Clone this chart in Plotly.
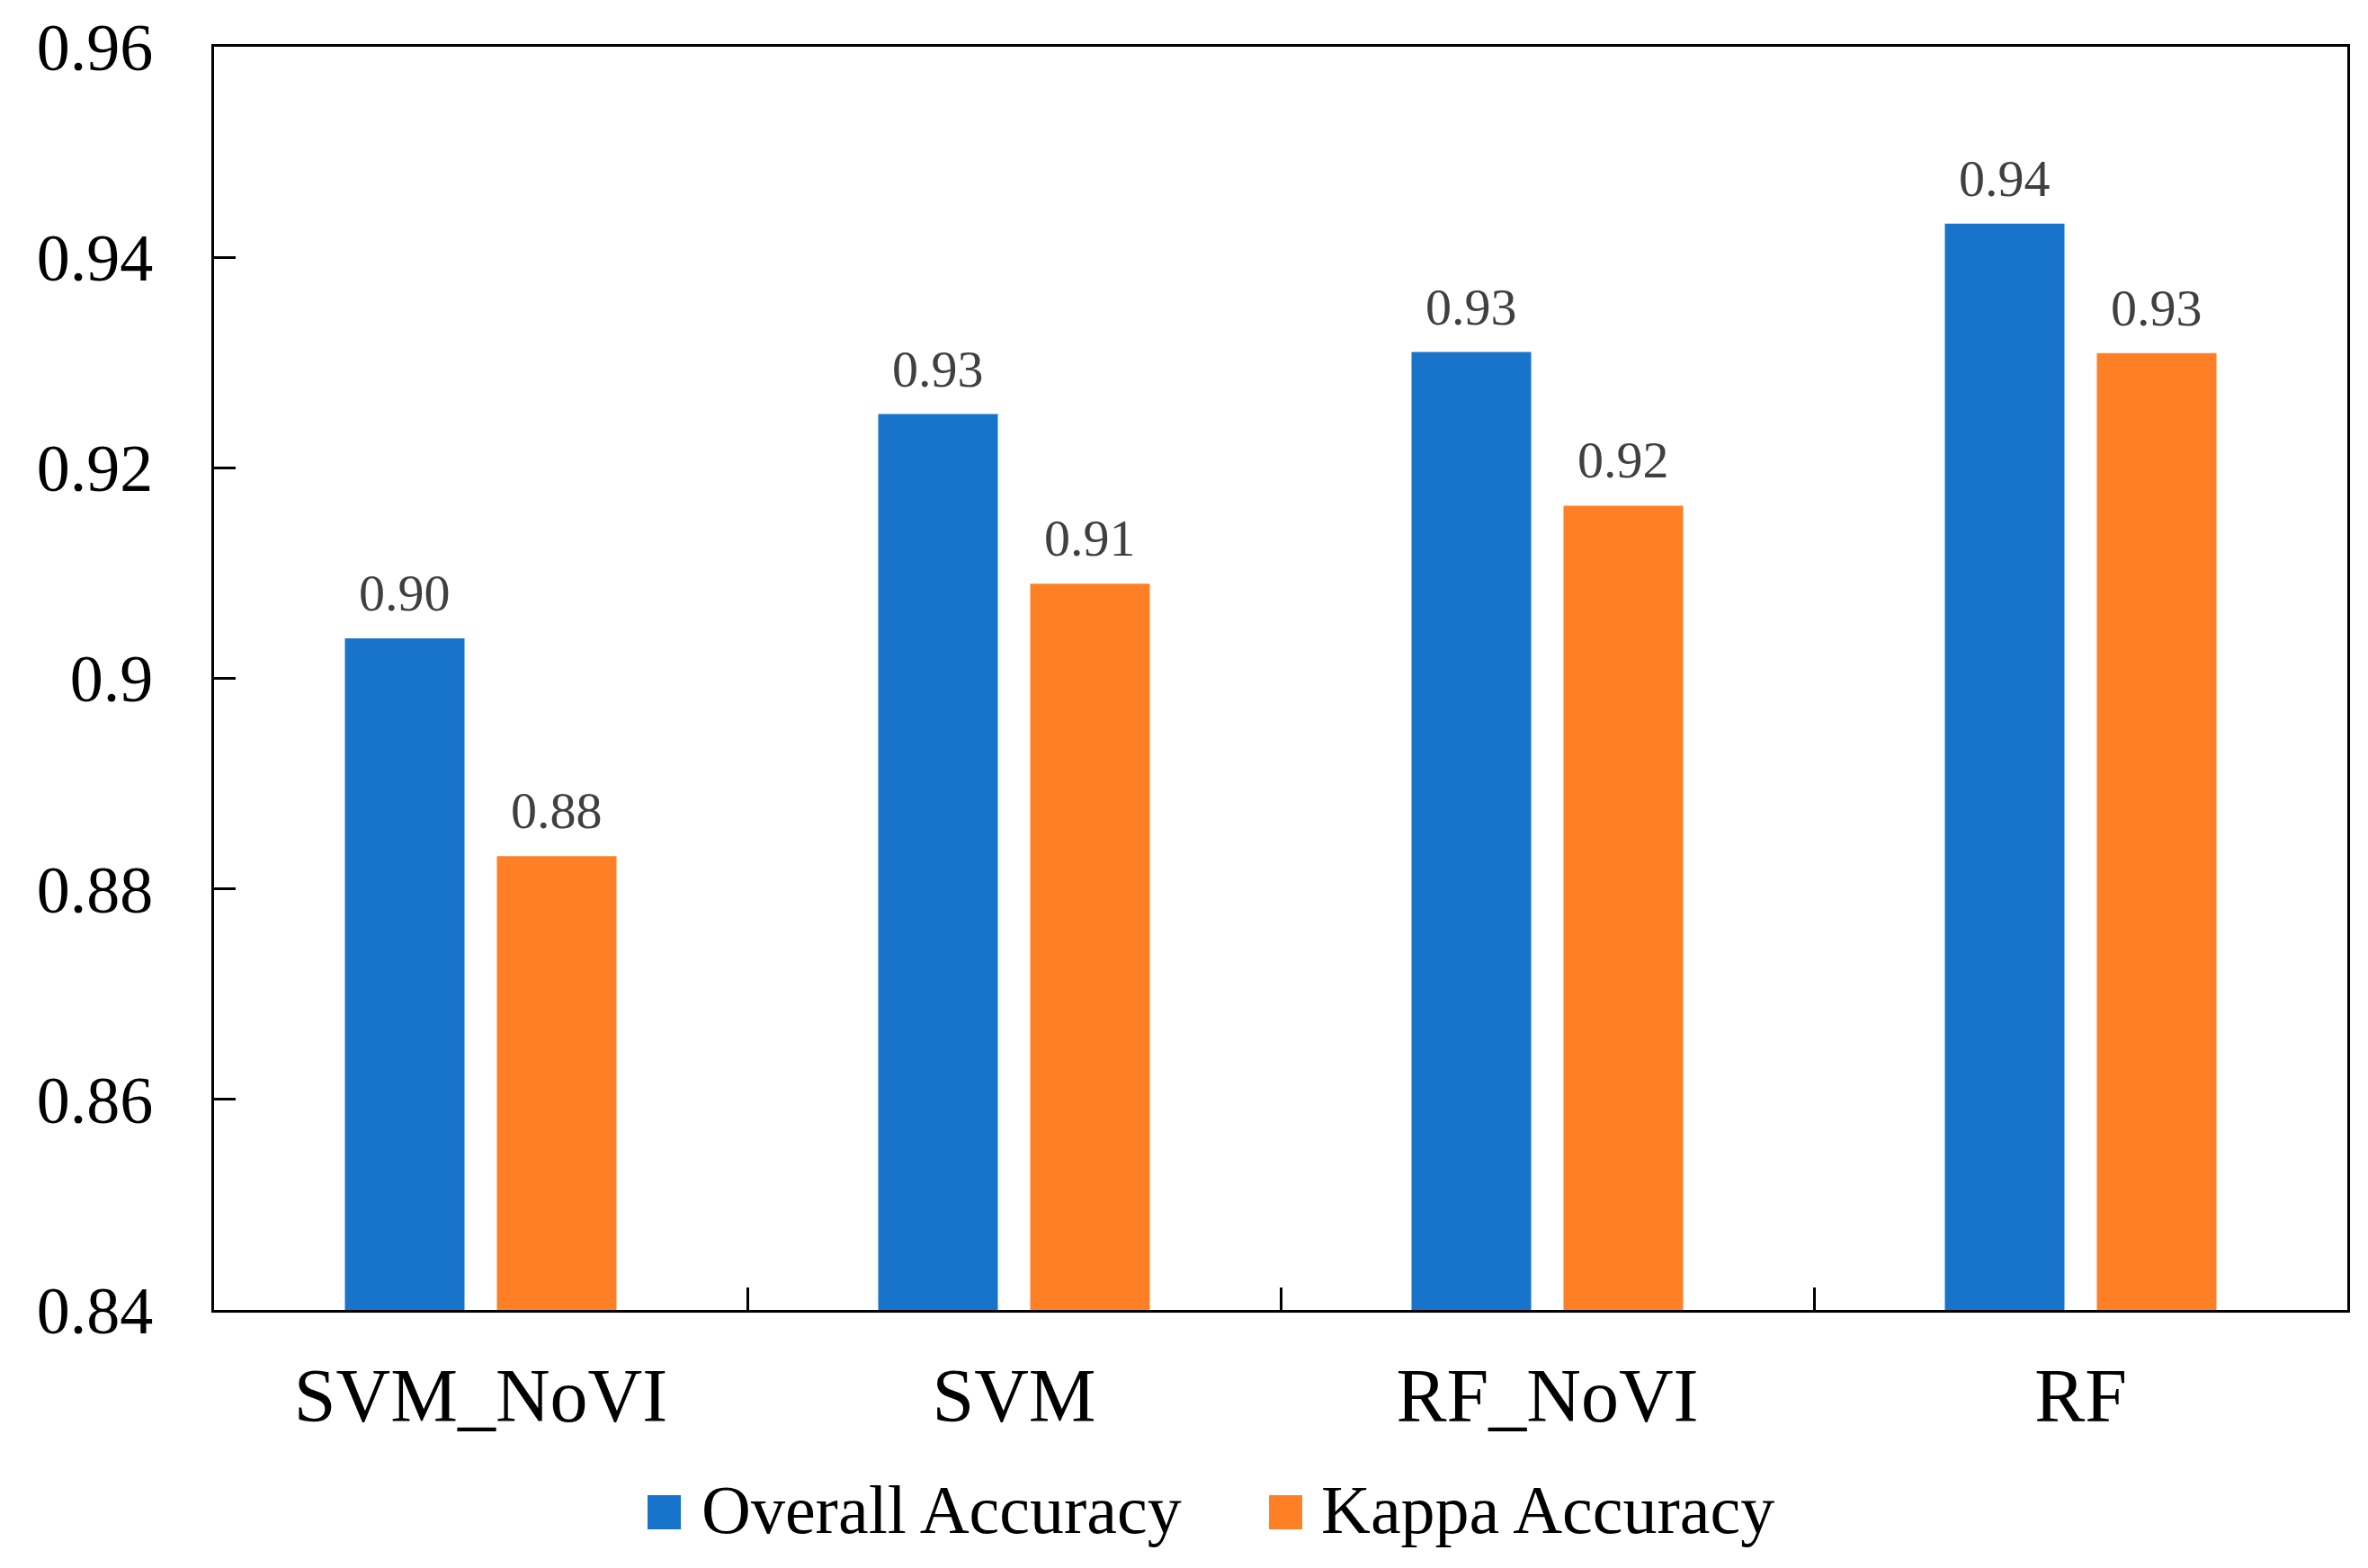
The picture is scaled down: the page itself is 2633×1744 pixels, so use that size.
import plotly.graph_objects as go

# ---- data ----
categories = ["SVM_NoVI", "SVM", "RF_NoVI", "RF"]
series_names = ["Overall Accuracy", "Kappa Accuracy"]
overall_accuracy = [0.9038, 0.9251, 0.9310, 0.9432]
kappa_accuracy = [0.8831, 0.9090, 0.9164, 0.9309]
y_ticks = [0.84, 0.86, 0.88, 0.90, 0.92, 0.94, 0.96]
y_tick_labels = ["0.84", "0.86", "0.88", "0.9", "0.92", "0.94", "0.96"]

colors = ["#1874CB", "#FF7F27"]
FONT = "Liberation Serif, Times New Roman, serif"

# page offset of the plot div (body margin) is 8px
OFF = 8
W, H = 2633 - OFF, 1744 - OFF
ML, MR, MT, MB = 238 - OFF, 23, 52 - OFF, 287
PW = W - ML - MR
PH = H - MT - MB
BARGAP = 0.43
BARGROUPGAP = 0.213

fig = go.Figure()
all_series = [overall_accuracy, kappa_accuracy]
for name, vals, col in zip(series_names, all_series, colors):
    fig.add_trace(go.Bar(
        x=categories, y=vals, name=name,
        marker=dict(color=col, line=dict(width=0)),
        showlegend=False,
    ))

# value labels above bars (placed via axis coordinates)
cat_w = PW / len(categories)
slot = (1 - BARGAP) * cat_w / len(all_series)
for i, vals in enumerate(all_series):
    shift = (i - (len(all_series) - 1) / 2) * slot
    for c, v in zip(categories, vals):
        fig.add_annotation(x=c, y=v, xref="x", yref="y", text=f"{v:.2f}",
                           showarrow=False, xanchor="center", yanchor="bottom",
                           xshift=shift, yshift=16,
                           font=dict(family=FONT, size=58, color="#404040"))

# manual legend with large square swatches (page pixel positions)
def px_x(px):
    return (px - OFF - ML) / PW

def px_y(py):
    return (H - MB - (py - OFF)) / PH

legend_items = [(720, 778), (1411, 1467)]
for (sx, tx), name, col in zip(legend_items, series_names, colors):
    fig.add_shape(type="rect", xref="paper", yref="paper",
                  x0=px_x(sx), x1=px_x(sx + 37), y0=px_y(1701), y1=px_y(1663),
                  fillcolor=col, line=dict(width=0))
    fig.add_annotation(xref="paper", yref="paper", x=px_x(tx), y=px_y(1679),
                       xanchor="left", yanchor="middle", showarrow=False,
                       text=name, font=dict(family=FONT, size=76, color="black"))

fig.update_layout(
    width=W, height=H,
    margin=dict(l=ML, r=MR, t=MT, b=MB, pad=0, autoexpand=False),
    paper_bgcolor="white", plot_bgcolor="white",
    barmode="group", bargap=BARGAP, bargroupgap=BARGROUPGAP,
    font=dict(family=FONT, color="black"),
)
fig.update_xaxes(
    automargin=False,
    showline=True, linecolor="black", linewidth=3, mirror=True,
    ticks="inside", tickson="boundaries", ticklen=25, tickwidth=3, tickcolor="black",
    tickfont=dict(family=FONT, size=84, color="black"), ticklabelstandoff=20,
    showgrid=False, zeroline=False,
)
fig.update_yaxes(
    automargin=False,
    range=[0.84, 0.96], tickvals=y_ticks, ticktext=y_tick_labels,
    showline=True, linecolor="black", linewidth=3, mirror=True,
    ticks="inside", ticklen=24, tickwidth=3, tickcolor="black",
    tickfont=dict(family=FONT, size=74, color="black"), ticklabelstandoff=50,
    showgrid=False, zeroline=False,
)

fig.write_html("out.html")
